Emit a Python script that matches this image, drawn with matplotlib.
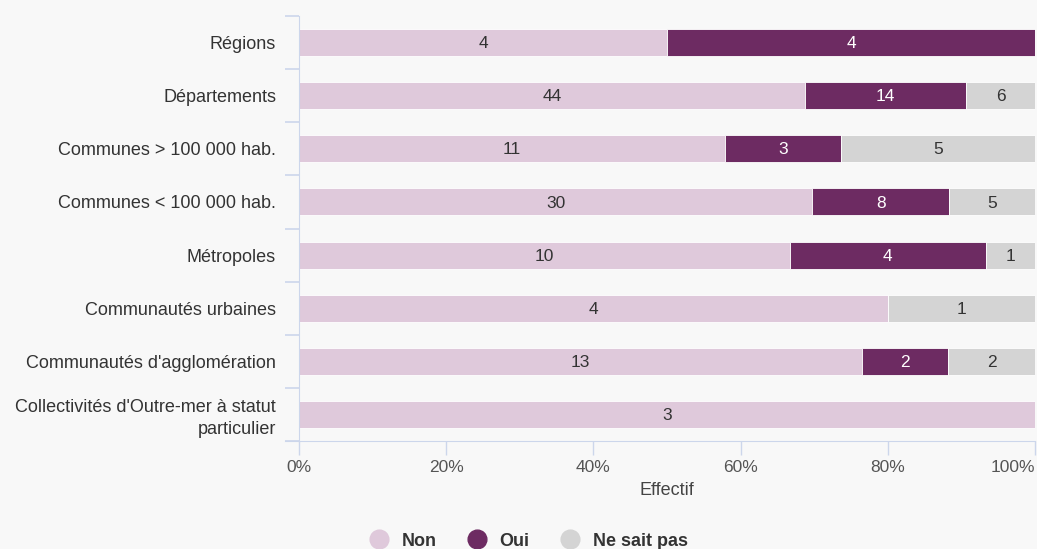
import numpy as np
import matplotlib.pyplot as plt
from matplotlib.lines import Line2D

plt.rcParams['font.family'] = ['Liberation Sans', 'DejaVu Sans']

categories = [
    "Régions",
    "Départements",
    "Communes > 100 000 hab.",
    "Communes < 100 000 hab.",
    "Métropoles",
    "Communautés urbaines",
    "Communautés d'agglomération",
    "Collectivités d'Outre-mer à statut\nparticulier",
]
non = [4, 44, 11, 30, 10, 4, 13, 3]
oui = [4, 14, 3, 8, 4, 0, 2, 0]
nsp = [0, 6, 5, 5, 1, 1, 2, 0]

series = [
    ("Non", non, "#dfc9db", "#333333"),
    ("Oui", oui, "#6d2b62", "#ffffff"),
    ("Ne sait pas", nsp, "#d4d4d4", "#333333"),
]
xticks = [0, 20, 40, 60, 80, 100]

bg = "#f8f8f8"
axis_col = "#ccd6eb"

fig = plt.figure(figsize=(10.37, 5.49), dpi=100)
fig.patch.set_facecolor(bg)
ax = fig.add_axes([299 / 1037, 1 - 441 / 549, 736 / 1037, 425 / 549])
ax.set_facecolor(bg)

n = len(categories)
y = np.arange(n)
totals = np.array(non) + np.array(oui) + np.array(nsp)
left = np.zeros(n)
for name, vals, color, tcol in series:
    vals = np.array(vals, dtype=float)
    width = vals / totals * 100
    ax.barh(y, width, left=left, height=0.51, color=color,
            edgecolor="#ffffff", linewidth=0.6)
    for i in range(n):
        if vals[i] > 0:
            ax.text(left[i] + width[i] / 2, y[i] + 0.02, f"{int(vals[i])}",
                    ha="center", va="center", fontsize=12.5, color=tcol)
    left += width

ax.set_ylim(n - 0.5, -0.5)
ax.set_xlim(0, 100)
ax.set_yticks(y)
ax.set_yticklabels(categories, fontsize=13, color="#333333", linespacing=1.35)
ax.tick_params(axis="y", length=0, pad=16.5)
ax.set_yticks(np.arange(n + 1) - 0.5, minor=True)
ax.tick_params(axis="y", which="minor", length=10, color=axis_col, width=1.2)

ax.set_xticks(xticks)
labels = ax.set_xticklabels([f"{t}%" for t in xticks], fontsize=12.5,
                            color="#555555")
labels[-1].set_ha("right")
ax.tick_params(axis="x", length=10, color=axis_col, width=1, pad=4)
ax.set_xlabel("Effectif", fontsize=13, color="#444444", labelpad=5)

for s in ["top", "right"]:
    ax.spines[s].set_visible(False)
ax.spines["left"].set_color(axis_col)
ax.spines["bottom"].set_color(axis_col)
ax.spines["bottom"].set_bounds(-1.9, 100)

handles = [Line2D([], [], marker="o", linestyle="", markersize=13.5,
                  markerfacecolor=c, markeredgecolor=c) for _, _, c, _ in series]
leg = fig.legend(handles, [s[0] for s in series], loc="center",
                 bbox_to_anchor=(526 / 1037, 1 - 541 / 549), ncol=3,
                 frameon=False, handletextpad=0.45, columnspacing=1.45,
                 handlelength=1.6, prop={"size": 13, "weight": "bold"})
for t in leg.get_texts():
    t.set_color("#333333")

fig.savefig("out.png", dpi=100, facecolor=bg)
